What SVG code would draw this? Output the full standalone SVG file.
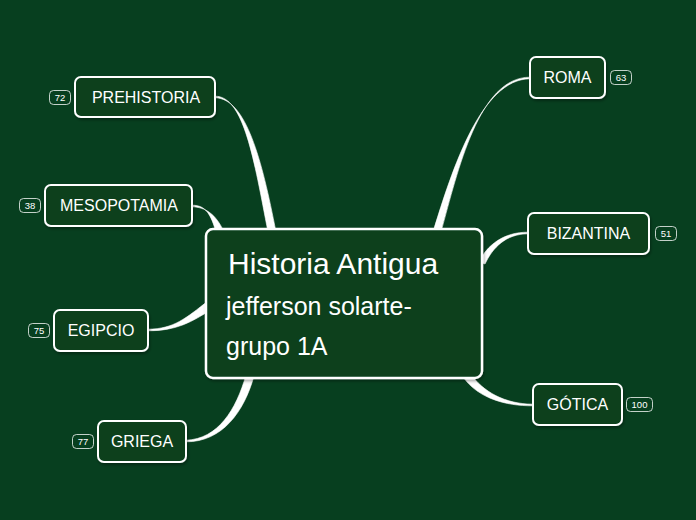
<svg xmlns="http://www.w3.org/2000/svg" width="696" height="520" viewBox="0 0 696 520">
<defs>
<filter id="sh" x="-20%" y="-20%" width="140%" height="150%">
<feDropShadow dx="1" dy="2" stdDeviation="1.5" flood-color="#000" flood-opacity="0.35"/>
</filter>
<style>
.node{fill:#073f1f;stroke:#fff;stroke-width:2;filter:url(#sh)}
.main{fill:#073f1f;stroke:#fff;stroke-width:2.5;filter:url(#sh)}
.lbl{font-family:"Liberation Sans","DejaVu Sans",sans-serif;font-size:16px;fill:#fff;text-anchor:middle}
.badge{fill:none;stroke:#fff;stroke-width:0.9;opacity:0.85}
.bt{font-family:"Liberation Sans","DejaVu Sans",sans-serif;font-size:9.5px;fill:#fff;text-anchor:middle}
.conn{fill:#fff;stroke:#fff;stroke-width:0.6}
.ct{font-family:"Liberation Sans","DejaVu Sans",sans-serif;fill:#fff}
</style>
</defs>
<rect width="696" height="520" fill="#073f1f"/>
<g id="connectors">
<path class="conn" d="M215,96.2 C244,96 254,160 268,232 L276,232 C262,160 246,98 215,97.8 Z"/>
<path class="conn" d="M192,205.2 C206,205 211,215 216,232 L224,232 C216,214 205,207 192,206.8 Z"/>
<path class="conn" d="M148,329.2 C174,329 186,318 208,301 L212,309 C192,322 176,331 148,330.8 Z"/>
<path class="conn" d="M186,440.2 C218,439 236,410 246,375 L254,376 C244,412 222,442 186,441.8 Z"/>
<path class="conn" d="M530,77.2 C479,77 458,170 441,232 L433,232 C452,170 481,79 530,78.8 Z"/>
<path class="conn" d="M528,232.2 C504,232 487,245 479,262 L485,264 C493,247 506,234 528,233.8 Z"/>
<path class="conn" d="M533,404.2 C505,404 483,392 470,373 L463,377 C478,398 505,406 533,405.8 Z"/>
</g>
<g id="central">
<rect class="main" x="206" y="229" width="276" height="149" rx="7"/>
<text class="ct" x="228" y="274" font-size="30">Historia Antigua</text>
<text class="ct" x="226" y="315" font-size="25">jefferson solarte-</text>
<text class="ct" x="226" y="355" font-size="25">grupo 1A</text>
</g>
<g id="prehistoria">
<rect class="node" x="75" y="77" width="140" height="40" rx="6"/>
<text class="lbl" x="146" y="103">PREHISTORIA</text>
<rect class="badge" x="49.5" y="90.5" width="21" height="14" rx="4"/>
<text class="bt" x="60" y="101">72</text>
</g>
<g id="mesopotamia">
<rect class="node" x="45" y="185" width="147" height="41" rx="6"/>
<text class="lbl" x="119" y="211">MESOPOTAMIA</text>
<rect class="badge" x="19.5" y="198.5" width="21" height="14" rx="4"/>
<text class="bt" x="30" y="209">38</text>
</g>
<g id="egipcio">
<rect class="node" x="54" y="310" width="94" height="41" rx="6"/>
<text class="lbl" x="101" y="336">EGIPCIO</text>
<rect class="badge" x="28.5" y="323.5" width="21" height="14" rx="4"/>
<text class="bt" x="39" y="334">75</text>
</g>
<g id="griega">
<rect class="node" x="98" y="421" width="88" height="41" rx="6"/>
<text class="lbl" x="142" y="447">GRIEGA</text>
<rect class="badge" x="72.5" y="434.5" width="21" height="14" rx="4"/>
<text class="bt" x="83" y="445">77</text>
</g>
<g id="roma">
<rect class="node" x="530" y="57" width="75" height="41" rx="6"/>
<text class="lbl" x="567.5" y="83">ROMA</text>
<rect class="badge" x="610.5" y="70.5" width="21" height="14" rx="4"/>
<text class="bt" x="621" y="81">63</text>
</g>
<g id="bizantina">
<rect class="node" x="528" y="213" width="121" height="41" rx="6"/>
<text class="lbl" x="588.5" y="239">BIZANTINA</text>
<rect class="badge" x="655.5" y="226.5" width="21" height="14" rx="4"/>
<text class="bt" x="666" y="237">51</text>
</g>
<g id="gotica">
<rect class="node" x="533" y="384" width="89" height="41" rx="6"/>
<text class="lbl" x="577.5" y="410">GÓTICA</text>
<rect class="badge" x="626.5" y="397.5" width="26" height="14" rx="4"/>
<text class="bt" x="639.5" y="408">100</text>
</g>
</svg>
